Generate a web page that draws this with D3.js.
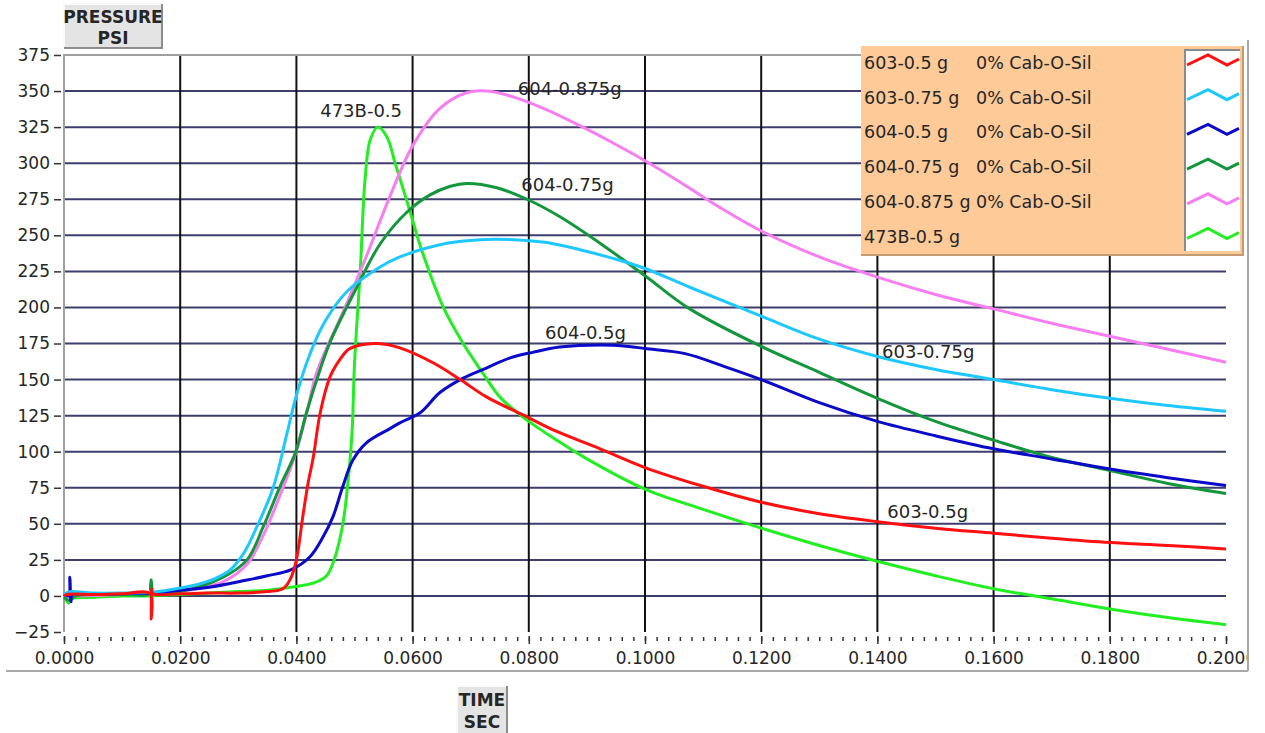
<!DOCTYPE html>
<html>
<head>
<meta charset="utf-8">
<script src="https://cdn.jsdelivr.net/npm/d3@7"></script>
<style>
  body { margin: 0; background: #fff; }
  svg { display: block; }
  text { font-family: "DejaVu Sans", sans-serif; fill: #262626; }
</style>
</head>
<body>
<svg id="chart" width="1265" height="733"></svg>
<script>
// series, in legend order
const seriesNames = ["603-0.5 g", "603-0.75 g", "604-0.5 g", "604-0.75 g", "604-0.875 g", "473B-0.5 g"];
const seriesNotes = ["0% Cab-O-Sil", "0% Cab-O-Sil", "0% Cab-O-Sil", "0% Cab-O-Sil", "0% Cab-O-Sil", ""];
const seriesColors = ["#ff1010", "#1ec8ff", "#0a0ac8", "#14963c", "#f77ef0", "#22ee22"];

// [time sec, pressure psi]
const p603_05 = [[0,0],[0.0005,1],[0.005,1],[0.010,1.5],[0.0148,1.5],[0.0150,-16],[0.0151,5],[0.0153,1.5],[0.020,1.5],[0.025,2],
  [0.030,2],[0.035,3],[0.037,4],[0.038,6],[0.039,12],[0.040,25],[0.0411,55],[0.042,78],[0.0429,96],[0.0441,127],[0.0458,152],
  [0.0475,164],[0.0490,171],[0.051,174],[0.054,175],[0.0578,172],[0.0636,161.5],[0.0682,150],[0.0727,138],[0.079,125.5],
  [0.0848,114],[0.0917,103],[0.100,89],[0.110,76],[0.120,65],[0.130,57],[0.140,51.5],[0.150,47],[0.160,43.5],
  [0.170,40],[0.180,37],[0.190,35],[0.200,32.5]];
const p603_075 = [[0,1],[0.001,3],[0.005,2],[0.010,2],[0.015,2.5],[0.020,5.5],[0.023,8],[0.026,12],[0.0286,18],[0.031,30],[0.0332,48],
  [0.036,75],[0.0384,113],[0.0398,136],[0.0418,162],[0.0446,188],[0.0487,211],[0.0544,228],[0.0578,235],[0.0659,244.5],[0.0716,247],
  [0.0773,247],[0.0831,245],[0.0888,240],[0.0945,234],[0.100,227],[0.1077,214],[0.120,194],[0.130,178],[0.140,166],[0.150,157],
  [0.160,150],[0.170,143],[0.180,137],[0.190,132],[0.200,128]];
const p604_05 = [[0,1],[0.0008,0],[0.0010,13],[0.0012,-4],[0.0014,1],[0.005,1],[0.010,1.5],[0.015,2],[0.020,4],[0.025,6],[0.0315,11],
  [0.035,14],[0.039,18],[0.0423,27],[0.0446,41],[0.0463,55],[0.048,76],[0.0497,94],[0.052,106],[0.0561,116],[0.0578,120],[0.0613,127],
  [0.0647,141],[0.0687,151],[0.0727,158],[0.0768,165],[0.0808,169],[0.0853,172.5],[0.0923,174],[0.0972,173],[0.100,171.5],
  [0.1069,168],[0.1137,159],[0.120,150],[0.130,134],[0.140,121],[0.150,111],[0.160,102],[0.170,95],[0.180,88],[0.190,82],[0.200,76.5]];
const p604_075 = [[0,-1],[0.001,-3],[0.002,0],[0.010,1],[0.0149,2],[0.0150,11],[0.0151,2],[0.020,3],[0.0274,13],[0.0315,25],[0.0343,48],
  [0.0372,76],[0.0398,99],[0.0418,128],[0.044,156],[0.0458,176],[0.0504,214],[0.0544,244],[0.059,266],[0.063,278],[0.0665,284],
  [0.0694,286],[0.0745,283],[0.0797,275],[0.0853,263],[0.0928,243],[0.100,222],[0.1077,199],[0.120,173],[0.130,155],[0.140,137],
  [0.150,121],[0.160,108],[0.170,96],[0.180,87],[0.190,78],[0.200,71]];
const p604_0875 = [[0,0],[0.002,0],[0.010,1],[0.020,3],[0.0274,10],[0.0315,22],[0.0343,42],[0.0372,70],[0.0398,98],[0.0418,127],
  [0.0435,155],[0.0487,203],[0.0521,236],[0.0561,277],[0.060,312],[0.0647,338],[0.0694,349],[0.0728,350],[0.0773,346],[0.0831,337],
  [0.0888,326],[0.0945,314],[0.1003,301],[0.106,287],[0.113,269],[0.120,253],[0.130,235],[0.140,221],[0.150,209],[0.160,199],[0.170,189],
  [0.180,180],[0.190,171],[0.200,162]];
const p473b_05 = [[0,0],[0.0008,-5],[0.0012,-2],[0.005,-1],[0.010,0],[0.015,0],[0.020,1],[0.030,3],[0.035,4],[0.039,6],[0.043,9],
  [0.0452,14],[0.0465,25],[0.048,50],[0.0489,80],[0.0496,115],[0.0500,161],[0.051,226],[0.0518,288],[0.0527,316],[0.054,325],
  [0.0556,318],[0.057,300],[0.0596,266],[0.0613,243],[0.0653,200],[0.0687,175],[0.072,155],[0.075,138],[0.079,124],[0.0848,108],
  [0.090,95],[0.100,74],[0.110,60],[0.120,47],[0.130,35],[0.140,24],[0.150,14],[0.160,5],[0.170,-2],[0.180,-9],[0.190,-15],[0.200,-20]];
const seriesData = [p603_05, p603_075, p604_05, p604_075, p604_0875, p473b_05];

// curve tags drawn on the plot: text, time, pressure at the baseline start
const tagTexts = ["473B-0.5", "604-0.875g", "604-0.75g", "604-0.5g", "603-0.75g", "603-0.5g"];
const tagTimes = [0.0441, 0.0781, 0.0787, 0.0828, 0.1408, 0.1417];
const tagPress = [332, 347, 281, 178, 165, 54];

const xMajor = [0, 0.02, 0.04, 0.06, 0.08, 0.10, 0.12, 0.14, 0.16, 0.18, 0.20];
const yMajor = [-25, 0, 25, 50, 75, 100, 125, 150, 175, 200, 225, 250, 275, 300, 325, 350, 375];

const svg = d3.select("#chart");

const x = d3.scaleLinear().domain([0, 0.2]).range([64, 1226]);
const y = d3.scaleLinear().domain([-25, 375]).range([632, 55]);

svg.append("defs").append("clipPath").attr("id", "frameClip")
  .append("rect").attr("x", 0).attr("y", 0).attr("width", 1247).attr("height", 733);

// outer panel edge
svg.append("line").attr("x1", 1248).attr("x2", 1248).attr("y1", 40).attr("y2", 671)
  .attr("stroke", "#a8a8a8").attr("stroke-width", 2);
svg.append("line").attr("x1", 6).attr("x2", 1248).attr("y1", 671).attr("y2", 671)
  .attr("stroke", "#a8a8a8").attr("stroke-width", 2);

// grid
const grid = svg.append("g");
grid.selectAll("line.h")
  .data(yMajor.filter(function(v) { return v >= 0 && v < 375; }))
  .enter().append("line")
    .attr("x1", x(0)).attr("x2", x(0.2))
    .attr("y1", function(d) { return y(d); })
    .attr("y2", function(d) { return y(d); })
    .attr("stroke", "#3e3e6e").attr("stroke-width", 2);
grid.selectAll("line.v")
  .data(xMajor.filter(function(v) { return v > 0 && v < 0.2; }))
  .enter().append("line")
    .attr("x1", function(d) { return x(d); })
    .attr("x2", function(d) { return x(d); })
    .attr("y1", y(375)).attr("y2", y(-25))
    .attr("stroke", "#111").attr("stroke-width", 2);
grid.append("line").attr("x1", x(0)).attr("x2", x(0.2)).attr("y1", y(375)).attr("y2", y(375))
  .attr("stroke", "#a0a0a0").attr("stroke-width", 2);
grid.append("line").attr("x1", x(0)).attr("x2", x(0)).attr("y1", y(375) - 1).attr("y2", y(-25))
  .attr("stroke", "#a0a0a0").attr("stroke-width", 2);

// axes
const yAxis = svg.append("g")
  .attr("transform", "translate(61,0)")
  .call(d3.axisLeft(y).tickValues(yMajor).tickSize(7).tickPadding(4).tickFormat(d3.format("d")));
yAxis.select(".domain").remove();
yAxis.selectAll("line").attr("stroke", "#333").attr("stroke-width", 1.5);
yAxis.selectAll("text").attr("font-size", 17).attr("font-family", "DejaVu Sans").attr("fill", "#262626");

const xMinor = d3.range(0, 101).map(function(i) { return i * 0.002; });
const xMinorAxis = svg.append("g")
  .attr("transform", "translate(0,637)")
  .call(d3.axisBottom(x).tickValues(xMinor).tickSize(4).tickFormat(""));
xMinorAxis.select(".domain").remove();
xMinorAxis.selectAll("line").attr("stroke", "#333").attr("stroke-width", 1.5);

const xAxis = svg.append("g")
  .attr("transform", "translate(0,636)")
  .attr("clip-path", "url(#frameClip)")
  .call(d3.axisBottom(x).tickValues(xMajor).tickSize(8).tickPadding(8).tickFormat(d3.format(".4f")));
xAxis.select(".domain").remove();
xAxis.selectAll("line").attr("stroke", "#333").attr("stroke-width", 1.5);
xAxis.selectAll("text").attr("font-size", 17).attr("font-family", "DejaVu Sans").attr("fill", "#262626");

// traces, red on top
const line = d3.line()
  .x(function(d) { return x(d[0]); })
  .y(function(d) { return y(d[1]); })
  .curve(d3.curveCatmullRom.alpha(0.5));

const order = [5, 4, 3, 2, 1, 0];
svg.append("g").selectAll("path")
  .data(order)
  .enter().append("path")
    .attr("d", function(i) { return line(seriesData[i]); })
    .attr("fill", "none")
    .attr("stroke", function(i) { return seriesColors[i]; })
    .attr("stroke-width", 3)
    .attr("stroke-linejoin", "round");

// tags on curves
svg.append("g").selectAll("text")
  .data(tagTexts)
  .enter().append("text")
    .attr("x", function(d, i) { return x(tagTimes[i]); })
    .attr("y", function(d, i) { return y(tagPress[i]); })
    .attr("font-size", 18)
    .text(function(d) { return d; });

// legend
const legend = svg.append("g");
legend.append("rect").attr("x", 861).attr("y", 46).attr("width", 382).attr("height", 209)
  .attr("fill", "#fdca98");
legend.append("path").attr("d", "M861,255H1243V46")
  .attr("fill", "none").attr("stroke", "#c49a72").attr("stroke-width", 2);
legend.append("rect").attr("x", 1185).attr("y", 50).attr("width", 55).attr("height", 201)
  .attr("fill", "#fff");
legend.append("path").attr("d", "M1185,251V50H1240")
  .attr("fill", "none").attr("stroke", "#8a8a8a").attr("stroke-width", 2);

const zig = [[0, 2], [21, -8], [40, 2], [52, -4]];
const zigLine = d3.line();
const rows = legend.selectAll("g.row")
  .data(seriesNames)
  .enter().append("g")
    .attr("transform", function(d, i) { return "translate(0," + (63 + i * 34.7) + ")"; });
rows.append("text").attr("x", 864).attr("y", 6).attr("font-size", 17.5)
  .text(function(d) { return d; });
rows.append("text").attr("x", 976).attr("y", 6).attr("font-size", 17.5)
  .text(function(d, i) { return seriesNotes[i]; });
rows.append("path")
  .attr("d", zigLine(zig.map(function(p) { return [1187 + p[0], p[1]]; })))
  .attr("fill", "none")
  .attr("stroke", function(d, i) { return seriesColors[i]; })
  .attr("stroke-width", 3);

// axis caption buttons
function button(x0, y0, w, h, lines, baselines) {
  const g = svg.append("g");
  g.append("rect").attr("x", x0).attr("y", y0).attr("width", w).attr("height", h).attr("fill", "#e4e4e4");
  g.append("path").attr("d", "M" + x0 + "," + (y0 + h) + "V" + y0 + "H" + (x0 + w))
    .attr("fill", "none").attr("stroke", "#fafafa").attr("stroke-width", 2);
  g.append("path").attr("d", "M" + x0 + "," + (y0 + h) + "H" + (x0 + w) + "V" + y0)
    .attr("fill", "none").attr("stroke", "#8c8c8c").attr("stroke-width", 2);
  g.selectAll("text").data(lines).enter().append("text")
    .attr("x", x0 + w / 2)
    .attr("y", function(d, i) { return baselines[i]; })
    .attr("text-anchor", "middle")
    .attr("font-family", "Liberation Sans, Arial, sans-serif")
    .attr("font-weight", "bold")
    .attr("font-size", 17)
    .attr("fill", "#111")
    .text(function(d) { return d; });
}
button(64, 4, 98, 44, ["PRESSURE", "PSI"], [23, 44]);
button(457, 686, 50, 50, ["TIME", "SEC"], [706, 728]);
</script>
</body>
</html>
